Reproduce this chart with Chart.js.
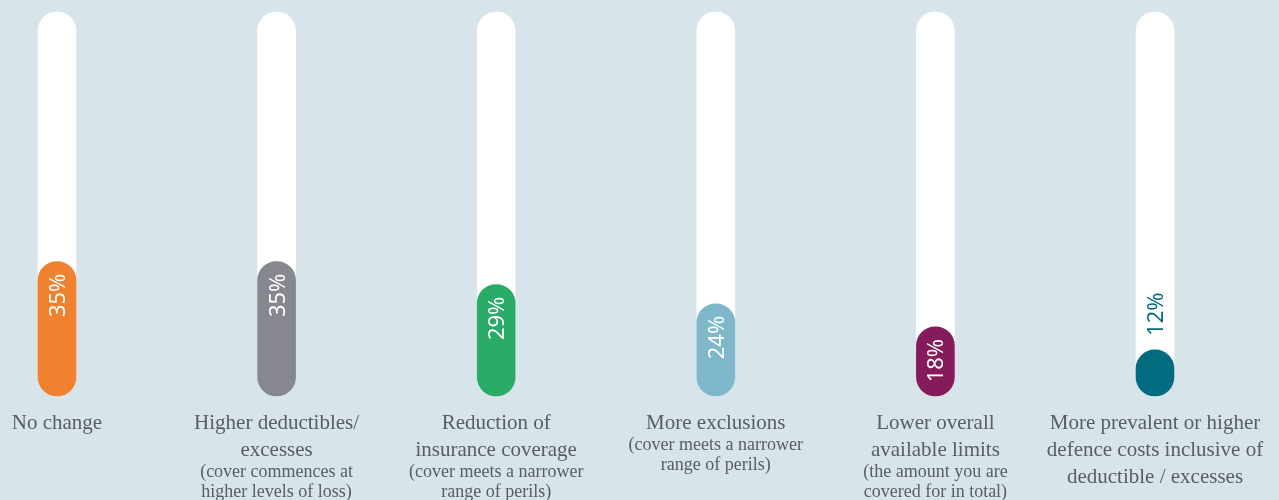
<!DOCTYPE html>
<html>
<head>
<meta charset="utf-8">
<script src="https://cdn.jsdelivr.net/npm/chart.js@4.4.1/dist/chart.umd.min.js"></script>
<style>
  html, body { margin: 0; padding: 0; background: #D7E4EA; }
  canvas { display: block; }
</style>
</head>
<body>
<canvas id="chart" width="1279" height="500"></canvas>
<script>
// Survey answers: how policy terms changed at renewal
const categories = [
  "No change",
  "Higher deductibles/ excesses",
  "Reduction of insurance coverage",
  "More exclusions",
  "Lower overall available limits",
  "More prevalent or higher defence costs inclusive of deductible / excesses"
];
const labelLines = [
  ["No change"],
  ["Higher deductibles/", "excesses"],
  ["Reduction of", "insurance coverage"],
  ["More exclusions"],
  ["Lower overall", "available limits"],
  ["More prevalent or higher", "defence costs inclusive of", "deductible / excesses"]
];
const noteLines = [
  [],
  ["(cover commences at", "higher levels of loss)"],
  ["(cover meets a narrower", "range of perils)"],
  ["(cover meets a narrower", "range of perils)"],
  ["(the amount you are", "covered for in total)"],
  []
];
const shares = [35, 35, 29, 24, 18, 12];
const trackMax = [100, 100, 100, 100, 100, 100];
const barColors = ["#F0812E", "#87888F", "#28AB66", "#7FB8CA", "#851B5A", "#026B80"];

const TEXT = "#585D62";

// Percent labels written along each filled bar
const valueLabels = {
  id: "valueLabels",
  afterDatasetsDraw(chart) {
    const ctx = chart.ctx;
    const meta = chart.getDatasetMeta(0);
    meta.data.forEach((bar, i) => {
      const inside = shares[i] >= 15;
      ctx.save();
      ctx.font = '22px "Noto Sans"';
      ctx.fillStyle = inside ? "#FFFFFF" : barColors[i];
      ctx.textBaseline = "alphabetic";
      if (inside) {
        ctx.translate(bar.x, bar.y + 12);
        ctx.rotate(-Math.PI / 2);
        ctx.textAlign = "right";
      } else {
        ctx.translate(bar.x, bar.y - 14);
        ctx.rotate(-Math.PI / 2);
        ctx.textAlign = "left";
      }
      ctx.fillText(shares[i] + "%", 0, 8);
      ctx.restore();
    });
  }
};

// Category names and explanatory notes under each bar
const categoryLabels = {
  id: "categoryLabels",
  afterDraw(chart) {
    const ctx = chart.ctx;
    const xScale = chart.scales.x;
    const bottom = chart.chartArea.bottom;
    ctx.save();
    ctx.fillStyle = TEXT;
    ctx.textAlign = "center";
    ctx.textBaseline = "alphabetic";
    labelLines.forEach((lines, i) => {
      const x = xScale.getPixelForValue(i);
      const y = bottom + 33;
      ctx.font = '21px "Liberation Serif"';
      lines.forEach((t, k) => {
        ctx.fillText(t, x, y + k * 27);
      });
      const ny = y + (lines.length - 1) * 27 + 21;
      ctx.font = '18px "Liberation Serif"';
      noteLines[i].forEach((t, k) => {
        ctx.fillText(t, x, ny + k * 20);
      });
    });
    ctx.restore();
  }
};

new Chart(document.getElementById("chart"), {
  type: "bar",
  data: {
    labels: categories,
    datasets: [
      {
        label: "Share of respondents",
        data: shares,
        backgroundColor: barColors,
        borderRadius: 19,
        borderSkipped: false,
        barThickness: 38,
        order: 1,
        clip: false
      },
      {
        label: "Scale",
        data: trackMax,
        backgroundColor: "#FFFFFF",
        borderRadius: 19,
        borderSkipped: false,
        barThickness: 38,
        order: 2,
        clip: false
      }
    ]
  },
  options: {
    responsive: false,
    animation: false,
    devicePixelRatio: 1,
    layout: { padding: { left: 57, right: 124, top: 12, bottom: 104 } },
    datasets: { bar: { grouped: false } },
    scales: {
      x: { type: "category", offset: false, display: false },
      y: { min: 0, max: 100, display: false }
    },
    plugins: {
      legend: { display: false },
      tooltip: { enabled: false }
    }
  },
  plugins: [valueLabels, categoryLabels]
});
</script>
</body>
</html>
